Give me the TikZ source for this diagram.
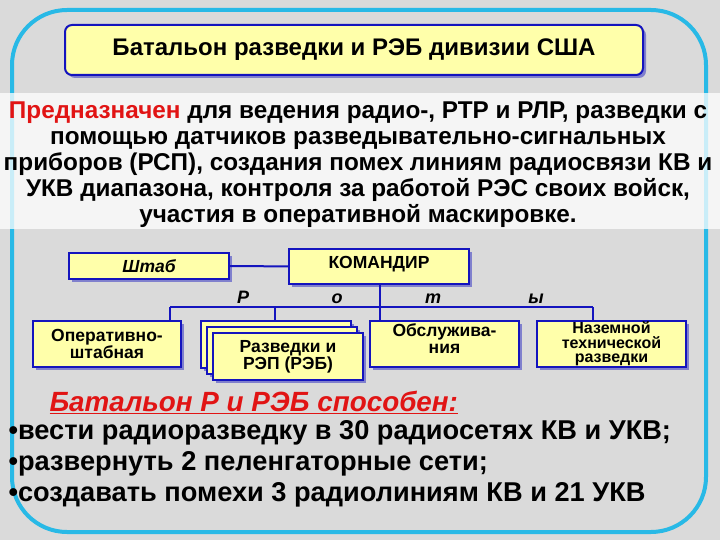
\documentclass[tikz,border=0pt]{standalone}
\usepackage{fontspec}
\setmainfont{Liberation Sans}
\usetikzlibrary{positioning,shadows}
\definecolor{boxyellow}{RGB}{255,255,170}
\definecolor{boxblue}{RGB}{20,20,190}
\definecolor{framecyan}{RGB}{40,185,230}
\definecolor{marble}{RGB}{218,218,218}
\definecolor{redtxt}{RGB}{225,20,20}
\tikzstyle{unit}=[draw=boxblue, line width=2pt, fill=boxyellow, align=center, inner sep=0pt,
  font=\bfseries\fontsize{17.5}{17}\selectfont,
  drop shadow={shadow xshift=3pt, shadow yshift=-3pt, fill=boxblue, opacity=0.45}]
\tikzstyle{link}=[draw=boxblue, line width=2pt]
\tikzstyle{rota}=[anchor=base, font=\bfseries\itshape\fontsize{18}{18}\selectfont]

\begin{document}
\begin{tikzpicture}[x=1pt,y=-1pt]
    \useasboundingbox (0,0) rectangle (720,540);
    \fill[marble] (0,0) rectangle (720,540);
    % frame and text band
    \draw[framecyan, line width=4pt, rounded corners=55pt] (12,10) rectangle (706,532);
    \fill[white, opacity=0.75] (0,93) rectangle (720,229);

    \node [unit, rounded corners=7pt, minimum width=578pt, minimum height=50pt,
      font=\bfseries\fontsize{24}{24}\selectfont] (title) at (354,50) {Батальон разведки и РЭБ дивизии США};

    \node [align=center, font=\bfseries\fontsize{24.3}{26}\selectfont] (about) at (358,165)
      {\textcolor{redtxt}{Предназначен} для ведения радио-, РТР и РЛР, разведки с\\
       помощью датчиков разведывательно-сигнальных\\
       приборов (РСП), создания помех линиям радиосвязи КВ и\\
       УКВ диапазона, контроля за работой РЭС своих войск,\\
       участия в оперативной маскировке.};

    % chart
    \node [unit, anchor=north west, minimum width=160pt, minimum height=26pt,
      font=\bfseries\itshape\fontsize{17.5}{17}\selectfont] (shtab) at (68,252) {Штаб};
    \node [unit, anchor=north west, minimum width=180pt, minimum height=35pt, text depth=9pt] (kom) at (288,248) {КОМАНДИР};
    \path[link] (shtab) -- (kom);

    \node [unit, anchor=north west, minimum width=148pt, minimum height=46pt] (op) at (32,320) {Оперативно-\\штабная};
    \node [unit, anchor=north west, minimum width=150pt, minimum height=47pt] (razv3) at (200,320) {};
    \node [unit, anchor=north west, minimum width=150pt, minimum height=47pt] (razv2) at (206,326) {};
    \node [unit, anchor=north west, minimum width=150pt, minimum height=47pt] (razv) at (212,332) {Разведки и\\РЭП (РЭБ)};
    \node [unit, anchor=north west, minimum width=149pt, minimum height=46pt, text depth=10pt] (obs) at (369,320) {Обслужива-\\ния};
    \node [unit, anchor=north west, minimum width=149pt, minimum height=46pt,
      font=\bfseries\fontsize{16}{14.5}\selectfont] (naz) at (536,320) {Наземной\\технической\\разведки};

    \coordinate (b1) at (170,307);
    \coordinate (b2) at (275,307);
    \coordinate (b4) at (593,307);
    \path[link] (b1) -- (b4);
    \path[link] (b1) -- (b1 |- op.north);
    \path[link] (b2) -- (b2 |- razv3.north);
    \path[link] (b4) -- (b4 |- naz.north);
    \path[link] (kom.south -| 380,0) -- (obs.north -| 380,0);

    \node [rota] (r1) at (243,303) {Р};
    \node [rota] (r2) at (337,303) {о};
    \node [rota] (r3) at (433,303) {т};
    \node [rota] (r4) at (536,303) {ы};

    % abilities
    \node [anchor=west, text=redtxt, font=\bfseries\itshape\fontsize{27.8}{27}\selectfont] (cap) at (46,402)
      {\underline{Батальон Р и РЭБ способен:}};
    \node [anchor=north west, align=left, font=\bfseries\fontsize{27.2}{31}\selectfont] (list) at (5,417)
      {•вести радиоразведку в 30 радиосетях КВ и УКВ;\\
       •развернуть 2 пеленгаторные сети;\\
       •создавать помехи 3 радиолиниям КВ и 21 УКВ};
\end{tikzpicture}
\end{document}
